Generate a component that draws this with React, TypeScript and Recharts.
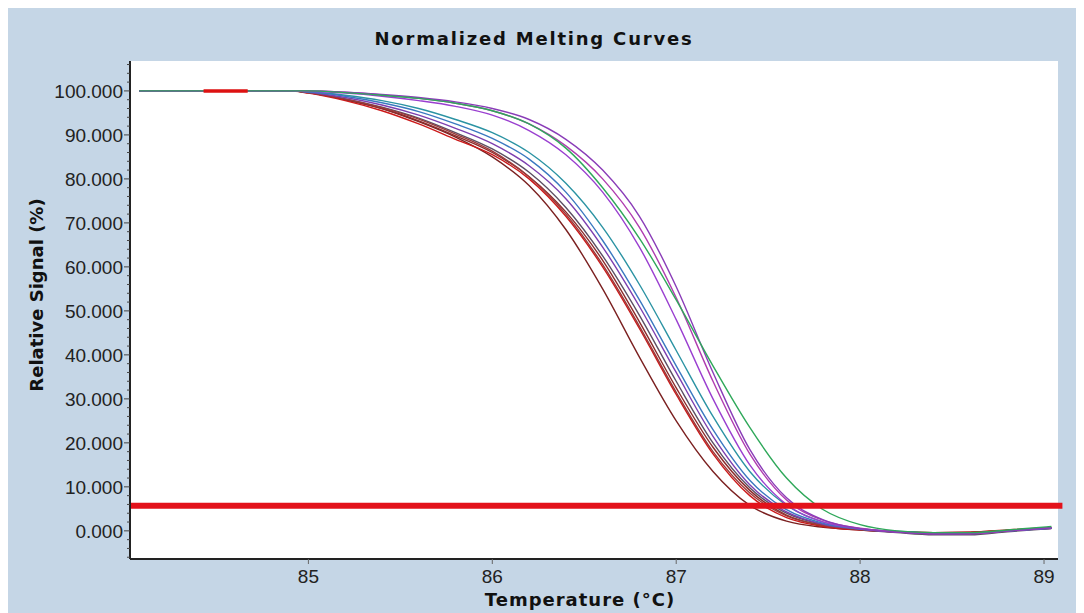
import { LineChart, Line, XAxis, YAxis, CartesianGrid, ReferenceLine } from 'recharts'

// temperature steps (°C) shared by all melting curves
const temps = [84.08, 84.5, 84.9, 85.0, 85.2, 85.4, 85.6, 85.8, 86.0, 86.2, 86.4, 86.6, 86.8, 87.0, 87.2, 87.4, 87.6, 87.8, 88.0, 88.2, 88.4, 88.6, 88.8, 89.04]

// relative signal (%) per well
const wellA = [100, 100, 100, 99.6, 98, 96, 93, 89.5, 85, 78.5, 68.5, 55, 39.5, 25, 13.5, 5.8, 2.2, 0.8, 0.2, -0.2, -0.4, -0.3, 0.1, 0.6]
const wellB = [100, 100, 100, 99.6, 98, 96, 93.2, 89.8, 86, 80.5, 72.5, 61.5, 47.5, 32.5, 19, 9.2, 3.6, 1.2, 0.3, -0.2, -0.4, -0.4, 0.1, 0.7]
const wellC = [100, 100, 100, 99.5, 97.8, 95.5, 92.5, 89, 85.5, 80, 71.5, 60, 46, 31, 17.5, 8, 3, 1, 0.2, -0.2, -0.4, -0.3, 0.2, 0.8]
const wellD = [100, 100, 100, 99.6, 98.2, 96.3, 93.8, 90.5, 86.8, 81.5, 73.5, 62.5, 49, 34, 20, 9.8, 4, 1.4, 0.3, -0.4, -0.9, -0.9, -0.2, 0.5]
const wellE = [100, 100, 100, 99.6, 98.2, 96.2, 93.6, 90.2, 86.3, 80.5, 72, 60.5, 46.5, 31.5, 18, 8.6, 3.4, 1.2, 0.3, -0.2, -0.5, -0.4, 0.1, 0.6]
const wellF = [100, 100, 100, 99.7, 98.5, 96.8, 94.5, 91.5, 88, 83, 75.5, 64.5, 51, 36, 21.5, 10.5, 4.3, 1.5, 0.4, -0.2, -0.6, -0.6, 0, 0.6]
const wellG = [100, 100, 100, 99.8, 99, 97.8, 96, 93.5, 90.5, 86, 79, 69, 56, 41, 26, 13.5, 5.8, 2, 0.5, -0.1, -0.5, -0.5, 0, 0.7]
const wellH = [100, 100, 100, 99.8, 98.8, 97.3, 95.3, 92.5, 89.2, 84.5, 77, 66, 52.5, 37.5, 23, 11.5, 4.8, 1.7, 0.4, -0.2, -0.5, -0.5, 0, 0.6]
const wellI = [100, 100, 100, 99.9, 99.5, 98.8, 97.8, 96.5, 94.5, 91, 85.5, 77, 64.5, 48, 30, 15, 6, 2, 0.5, -0.2, -0.6, -0.6, 0, 0.7]
const wellJ = [100, 100, 100, 100, 99.7, 99.1, 98.3, 97.2, 95.5, 92.5, 87.5, 80, 69, 53, 34, 17.5, 7, 2.4, 0.6, -0.2, -0.6, -0.6, 0, 0.8]
const wellK = [100, 100, 100, 100, 99.7, 99.2, 98.5, 97.5, 96, 93.5, 89, 82, 71.5, 55.5, 36, 18.5, 7.5, 2.5, 0.5, -0.3, -0.7, -0.6, 0, 0.7]
const wellL = [100, 100, 100, 100, 99.6, 99, 98.3, 97.2, 95.5, 92.5, 87, 78, 66.5, 52.5, 37.5, 23.5, 12, 4.8, 1.4, 0, -0.4, -0.4, 0.2, 1.0]

const wells = [
  { key: 'A', values: wellA, color: '#7b2020' },
  { key: 'B', values: wellB, color: '#8c2b2b' },
  { key: 'C', values: wellC, color: '#cc1a1a' },
  { key: 'D', values: wellD, color: '#5c4f63' },
  { key: 'E', values: wellE, color: '#9b3a3a' },
  { key: 'F', values: wellF, color: '#7d3fb0' },
  { key: 'G', values: wellG, color: '#2b93a3' },
  { key: 'H', values: wellH, color: '#3a78c0' },
  { key: 'I', values: wellI, color: '#9a3fd0' },
  { key: 'J', values: wellJ, color: '#b03cb0' },
  { key: 'K', values: wellK, color: '#8a3cb8' },
  { key: 'L', values: wellL, color: '#2fa85a' },
]

// short red marker on the baseline and the threshold level
const markerTemps = [84.43, 84.67]
const markerValues = [100, 100]
const threshold = 5.7

const xTicks = [85, 86, 87, 88, 89]
const yTicks = [0, 10, 20, 30, 40, 50, 60, 70, 80, 90, 100]

const rows = temps.map((t, i) => {
  const row: any = { t }
  wells.forEach(w => { row[w.key] = w.values[i] })
  return row
})
const markerRows = markerTemps.map((t, i) => ({ t, m: markerValues[i] }))

// minor ticks every 2 units between the labelled ones
const allYTicks: number[] = []
for (let v = -6; v <= 106; v += 2) allYTicks.push(v)

const tickFont = '"Liberation Sans", Arial, sans-serif'
const labelFont = '"DejaVu Sans", sans-serif'

const YTick = (props: any) => {
  const { x, y, payload } = props
  const v = payload.value
  const major = yTicks.includes(v)
  return (
    <g>
      <line x1={x + (major ? 1 : 4)} x2={x + 7} y1={y} y2={y} stroke="#444" strokeWidth={1} />
      {major && (
        <text x={x} y={y} dy={7} textAnchor="end" fontFamily={tickFont} fontSize={19} fill="#222">
          {v.toFixed(3)}
        </text>
      )}
    </g>
  )
}

export default function App() {
  return (
    <div style={{ position: 'relative', marginTop: -3, width: 1076, height: 608, background: '#c5d6e6' }}>
      <LineChart
        width={1076}
        height={608}
        data={rows}
        margin={{ top: 56, right: 26, bottom: 24, left: 12 }}
      >
        <CartesianGrid fill="#ffffff" horizontal={false} vertical={false} />
        <XAxis
          dataKey="t"
          type="number"
          domain={[84.03, 89.076]}
          allowDataOverflow
          ticks={xTicks}
          height={30}
          tickSize={5}
          tickMargin={6}
          axisLine={{ stroke: '#222', strokeWidth: 2 }}
          tickLine={{ stroke: '#666' }}
          tick={{ fontFamily: tickFont, fontSize: 19, fill: '#222' }}
        />
        <XAxis xAxisId="top" orientation="top" type="number" domain={[84.03, 89.076]} height={0} tick={false} tickLine={false} axisLine={{ stroke: '#222', strokeWidth: 2 }} />
        <YAxis
          type="number"
          domain={[-6.4, 106.8]}
          allowDataOverflow
          ticks={allYTicks}
          interval={0}
          width={110}
          tickSize={6}
          tickMargin={1}
          tickLine={false}
          axisLine={{ stroke: '#222', strokeWidth: 2 }}
          tick={<YTick />}
        />
        <YAxis yAxisId="right" orientation="right" type="number" domain={[-6.4, 106.8]} width={0} tick={false} tickLine={false} axisLine={{ stroke: '#222', strokeWidth: 2 }} />
        {wells.map(w => (
          <Line
            key={w.key}
            dataKey={w.key}
            type="monotone"
            stroke={w.color}
            strokeWidth={1.4}
            dot={false}
            isAnimationActive={false}
          />
        ))}
        <Line data={markerRows} dataKey="m" stroke="#dd1111" strokeWidth={3.5} dot={false} isAnimationActive={false} />
        <ReferenceLine
          segment={[{ x: 84.03, y: threshold }, { x: 89.1, y: threshold }]}
          ifOverflow="visible"
          stroke="#e3121b"
          strokeWidth={6}
        />
      </LineChart>
      <div style={{ position: 'absolute', left: 326, top: 25, width: 400, textAlign: 'center', fontFamily: labelFont, fontWeight: 'bold', fontSize: 18, lineHeight: '18px', letterSpacing: 1.8, color: '#111' }}>
        Normalized Melting Curves
      </div>
      <div style={{ position: 'absolute', left: 422, top: 586, width: 300, textAlign: 'center', fontFamily: labelFont, fontWeight: 'bold', fontSize: 18, lineHeight: '18px', letterSpacing: 1, color: '#111' }}>
        Temperature (°C)
      </div>
      <div style={{ position: 'absolute', left: 29 - 150, top: 290 - 9, width: 300, height: 18, textAlign: 'center', fontFamily: labelFont, fontWeight: 'bold', fontSize: 18, lineHeight: '18px', color: '#111', transform: 'rotate(-90deg)' }}>
        Relative Signal (%)
      </div>
    </div>
  )
}
